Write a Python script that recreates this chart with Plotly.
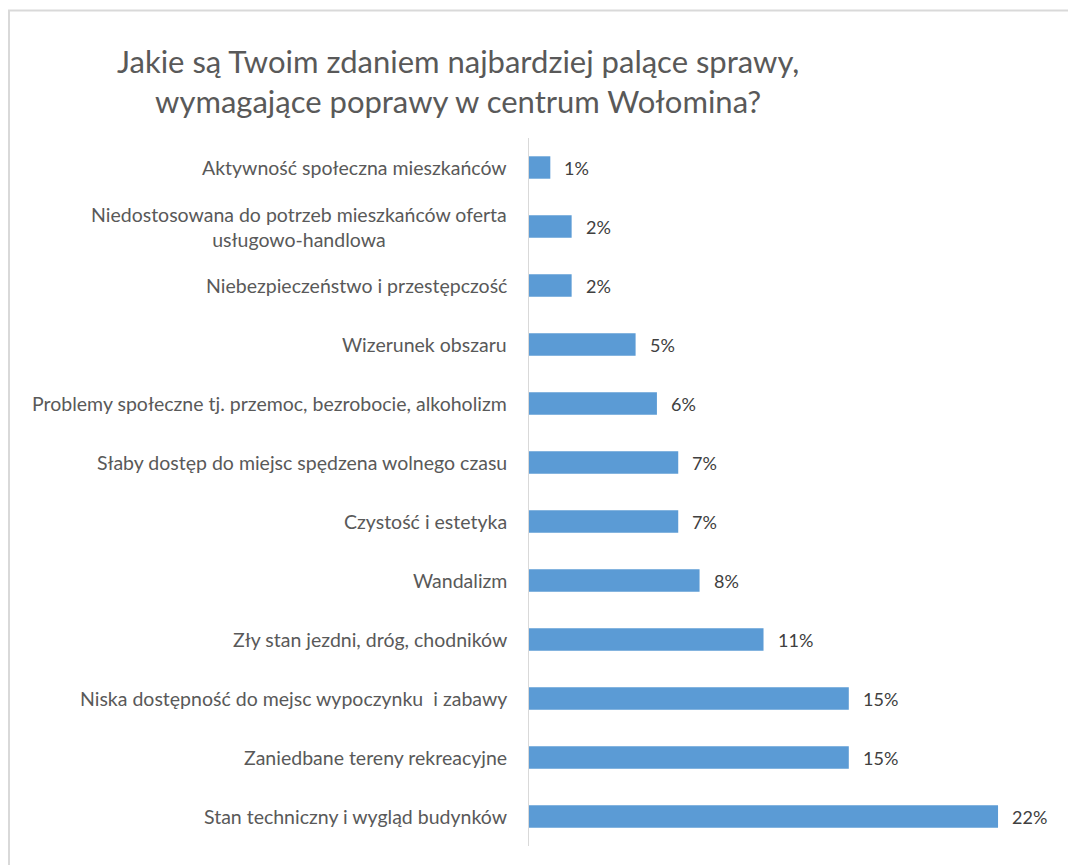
import plotly.graph_objects as go

categories = [
    "Aktywność społeczna mieszkańców",
    "Niedostosowana do potrzeb mieszkańców oferta<br>usługowo-handlowa",
    "Niebezpieczeństwo i przestępczość",
    "Wizerunek obszaru",
    "Problemy społeczne tj. przemoc, bezrobocie, alkoholizm",
    "Słaby dostęp do miejsc spędzena wolnego czasu",
    "Czystość i estetyka",
    "Wandalizm",
    "Zły stan jezdni, dróg, chodników",
    "Niska dostępność do mejsc wypoczynku  i zabawy",
    "Zaniedbane tereny rekreacyjne",
    "Stan techniczny i wygląd budynków",
]
values = [1, 2, 2, 5, 6, 7, 7, 8, 11, 15, 15, 22]
value_labels = ["1%", "2%", "2%", "5%", "6%", "7%", "7%", "8%", "11%", "15%", "15%", "22%"]
title_text = "Jakie są Twoim zdaniem najbardziej palące sprawy,<br>wymagające poprawy w centrum Wołomina?"

# page has an 8px body margin; figure coordinates = page coordinates - 8
OFF = 8
W, H = 1076 - OFF, 865 - OFF
L, R, T, B = 529 - OFF, 14, 138 - OFF, 19
FONT = "Lato"

fig = go.Figure()
fig.add_trace(go.Bar(
    x=values, y=categories, orientation="h",
    marker=dict(color="#5B9BD5", line=dict(width=0)),
    width=0.38, hoverinfo="skip",
))

annotations = []
for c, v, t in zip(categories, values, value_labels):
    annotations.append(dict(
        x=v, y=c, xref="x", yref="y", text=t, showarrow=False,
        xanchor="left", xshift=12, font=dict(family=FONT, size=18, color="#404040"),
    ))
    annotations.append(dict(
        x=0, y=c, xref="paper", yref="y", text=c, showarrow=False,
        xanchor="right", align="center", xshift=-20,
        font=dict(family=FONT, size=19.5, color="#595959"),
    ))

pw = W - L - R
ph = H - T - B
annotations.append(dict(
    x=(458 - OFF - L) / pw, y=(H - B - (81 - OFF)) / ph, xref="paper", yref="paper",
    text=title_text, showarrow=False, xanchor="center", yanchor="middle",
    align="center", font=dict(family=FONT, size=31, color="#595959"),
))

fig.update_layout(
    width=W, height=H,
    margin=dict(l=L, r=R, t=T, b=B, pad=0),
    paper_bgcolor="white", plot_bgcolor="white",
    showlegend=False,
    annotations=annotations,
    xaxis=dict(range=[0, 25], visible=False, fixedrange=True),
    yaxis=dict(autorange="reversed", showticklabels=False, ticks="",
               showline=True, linecolor="#d9d9d9", linewidth=1,
               showgrid=False, zeroline=False),
    shapes=[dict(
        type="rect", xref="paper", yref="paper",
        x0=(1 - L) / pw, x1=(1090 - L) / pw,
        y0=(H - B - 880) / ph, y1=(H - B - 2.5) / ph,
        line=dict(color="#d9d9d9", width=2), fillcolor="rgba(0,0,0,0)", layer="below",
    )],
)

fig.write_html("out.html")
